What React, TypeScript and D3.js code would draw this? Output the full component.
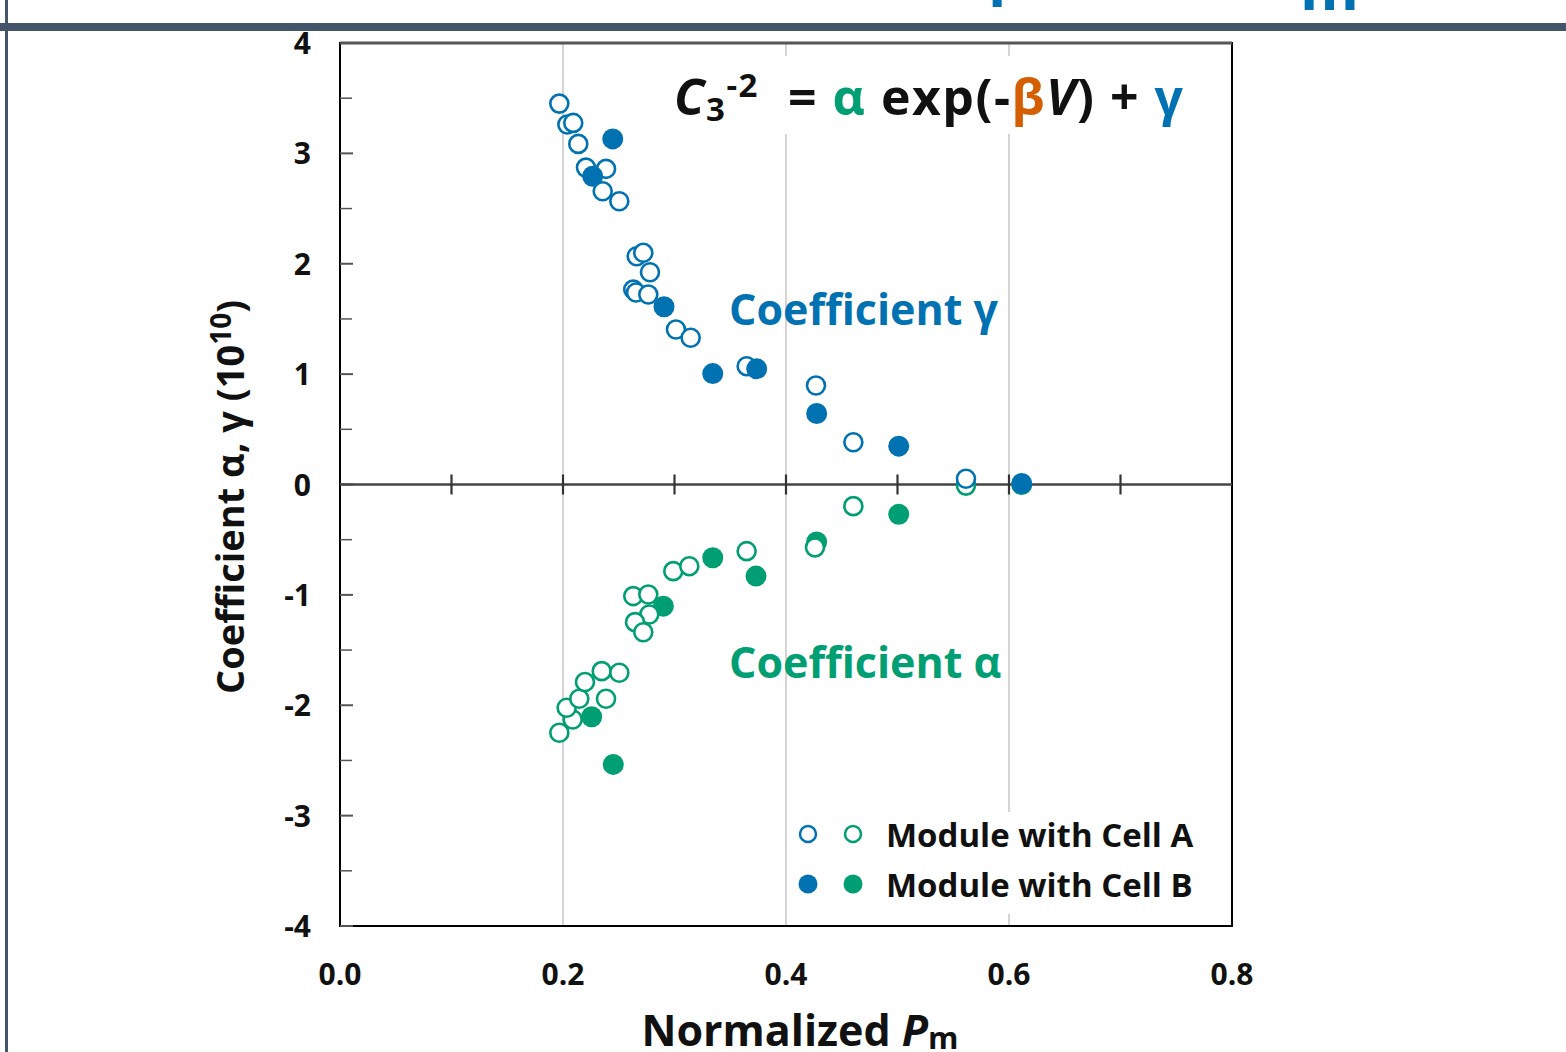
import React from "react";
import * as d3 from "d3";

// Cell A (open) – gamma (blue)
const gammaA_x = [0.1967, 0.2039, 0.2092, 0.2137, 0.2206, 0.2386, 0.2356, 0.2505, 0.2661, 0.2720, 0.2780, 0.2630, 0.2655, 0.2765, 0.3013, 0.3145, 0.3647, 0.4269, 0.4604, 0.5614];
const gammaA_y = [3.451, 3.261, 3.276, 3.086, 2.871, 2.860, 2.657, 2.566, 2.068, 2.099, 1.923, 1.766, 1.739, 1.721, 1.404, 1.329, 1.072, 0.897, 0.383, 0.052];
// Cell B (filled) – gamma (blue)
const gammaB_x = [0.2446, 0.2266, 0.2906, 0.3343, 0.3737, 0.4275, 0.5011, 0.6114];
const gammaB_y = [3.131, 2.793, 1.610, 1.005, 1.048, 0.643, 0.347, 0.009];
// Cell A (open) – alpha (green)
const alphaA_x = [0.1967, 0.2087, 0.2033, 0.2146, 0.2197, 0.2347, 0.2505, 0.2386, 0.2630, 0.2765, 0.2774, 0.2646, 0.2720, 0.2989, 0.3133, 0.3647, 0.4260, 0.4604, 0.5614];
const alphaA_y = [-2.249, -2.129, -2.023, -1.941, -1.790, -1.691, -1.706, -1.941, -1.011, -0.996, -1.178, -1.247, -1.338, -0.785, -0.740, -0.604, -0.570, -0.196, -0.010];
// Cell B (filled) – alpha (green)
const alphaB_x = [0.2257, 0.2451, 0.2900, 0.3343, 0.3731, 0.4275, 0.5011, 0.6114];
const alphaB_y = [-2.104, -2.536, -1.102, -0.664, -0.830, -0.520, -0.270, 0.0];

const xTicks = [0.0, 0.2, 0.4, 0.6, 0.8];
const xAxisMinorTicks = [0.1, 0.2, 0.3, 0.4, 0.5, 0.6, 0.7];
const yTicks = [-4, -3, -2, -1, 0, 1, 2, 3, 4];
const yMinorTicks = [-3.5, -2.5, -1.5, -0.5, 0.5, 1.5, 2.5, 3.5];
const gridX = [0.2, 0.4, 0.6];
const legendLabels = ["Module with Cell A", "Module with Cell B"];

const BLUE = "#0072B2";
const GREEN = "#009E73";
const ORANGE = "#D55E00";
const FRAME = "#44546A";
const FONT = "'Open Sans', Lato, sans-serif";

export default function App() {
  const x = d3.scaleLinear().domain([0, 0.8]).range([340, 1232]);
  const y = d3.scaleLinear().domain([-4, 4]).range([926, 43]);
  const [x0, x1] = x.range();
  const [yb, yt] = y.range();

  const zip = (xs: number[], ys: number[]) => xs.map((v, i) => [v, ys[i]] as [number, number]);
  const openPts = (pts: [number, number][], color: string, key: string) =>
    pts.map((p, i) => (
      <circle key={key + i} cx={x(p[0])} cy={y(p[1])} r={9} fill="#fff" stroke={color} strokeWidth={2.6} />
    ));
  const fillPts = (pts: [number, number][], color: string, key: string) =>
    pts.map((p, i) => <circle key={key + i} cx={x(p[0])} cy={y(p[1])} r={10.5} fill={color} />);

  return (
    <svg width={1566} height={1052} style={{ position: "absolute", left: 0, top: 0, background: "#fff" }}>
      {/* slide frame and cut-off title fragments */}
      <text x={988} y={-8} fontFamily={FONT} fontWeight={700} fontSize={60} fill={BLUE}>p</text>
      <text x={1300} y={10} fontFamily={FONT} fontWeight={700} fontSize={60} fill={BLUE}>m</text>
      <rect x={0} y={23} width={1566} height={8} fill={FRAME} />
      <rect x={5} y={0} width={3} height={1052} fill={FRAME} />

      {/* grid */}
      {gridX.map((g) => (
        <line key={"g" + g} x1={x(g)} x2={x(g)} y1={yt} y2={yb} stroke="#d4d4d4" strokeWidth={2} />
      ))}

      {/* white boxes behind equation and legend */}
      <rect x={660} y={56} width={545} height={78} fill="#fff" />
      <rect x={790} y={812} width={425} height={102} fill="#fff" />

      {/* frame */}
      <rect x={x0} y={yt} width={x1 - x0} height={yb - yt} fill="none" stroke="#000" strokeWidth={2} />
      <line x1={x0} x2={x1} y1={yt} y2={yt} stroke="#555" strokeWidth={3} />

      {/* y ticks (inward) */}
      {yTicks.map((t) => (
        <line key={"yt" + t} x1={x0} x2={x0 + 13} y1={y(t)} y2={y(t)} stroke="#555" strokeWidth={2} />
      ))}
      {yMinorTicks.map((t) => (
        <line key={"ym" + t} x1={x0} x2={x0 + 12} y1={y(t)} y2={y(t)} stroke="#555" strokeWidth={1.5} />
      ))}

      {/* zero axis */}
      <line x1={x0} x2={x1} y1={y(0)} y2={y(0)} stroke="#444" strokeWidth={2.5} />
      {xAxisMinorTicks.map((t) => (
        <line key={"xt" + t} x1={x(t)} x2={x(t)} y1={y(0) - 10} y2={y(0) + 10} stroke="#333" strokeWidth={2.2} />
      ))}

      {/* tick labels */}
      {yTicks.map((t) => (
        <text key={"yl" + t} x={311} y={y(t) + 11} textAnchor="end" fontFamily={FONT} fontWeight={700} fontSize={30} fill="#111">
          {String(t)}
        </text>
      ))}
      {xTicks.map((t) => (
        <text key={"xl" + t} x={x(t)} y={985} textAnchor="middle" fontFamily={FONT} fontWeight={700} fontSize={30} fill="#111">
          {d3.format(".1f")(t)}
        </text>
      ))}

      {/* axis titles */}
      <text x={800} y={1046} textAnchor="middle" fontFamily={FONT} fontWeight={700} fontSize={43} fill="#111">
        Normalized <tspan fontStyle="italic">P</tspan>
        <tspan fontSize={31} dy={3}>m</tspan>
      </text>
      <text
        transform="translate(244,497) rotate(-90)"
        textAnchor="middle"
        fontFamily={FONT}
        fontWeight={700}
        fontSize={38}
        fill="#111"
      >
        Coefficient α, γ (10<tspan fontSize={28} dy={-13}>10</tspan>
        <tspan dy={13}>)</tspan>
      </text>

      {/* data */}
      {fillPts(zip(alphaB_x, alphaB_y), GREEN, "ab")}
      {openPts(zip(alphaA_x, alphaA_y), GREEN, "aa")}
      {openPts(zip(gammaA_x, gammaA_y), BLUE, "ga")}
      {fillPts(zip(gammaB_x, gammaB_y), BLUE, "gb")}

      {/* equation */}
      <text x={674} y={115} fontFamily={FONT} fontWeight={700} fontSize={50} letterSpacing={1.5} fill="#111" style={{ whiteSpace: "pre" }}>
        <tspan fontStyle="italic">C</tspan>
        <tspan fontSize={33} dy={6}>3</tspan>
        <tspan fontSize={33} dy={-24}>-2</tspan>
        <tspan dy={18}>{"  = "}</tspan>
        <tspan fill={GREEN}>α</tspan>
        <tspan>{" exp(-"}</tspan>
        <tspan fill={ORANGE}>β</tspan>
        <tspan fontStyle="italic">V</tspan>
        <tspan>{") + "}</tspan>
        <tspan fill={BLUE}>γ</tspan>
      </text>

      {/* series labels */}
      <text x={729} y={325} fontFamily={FONT} fontWeight={700} fontSize={43} fill={BLUE}>Coefficient γ</text>
      <text x={729} y={678} fontFamily={FONT} fontWeight={700} fontSize={43} fill={GREEN}>Coefficient α</text>

      {/* legend */}
      <circle cx={808} cy={834} r={8} fill="#fff" stroke={BLUE} strokeWidth={2.5} />
      <circle cx={853} cy={834} r={8} fill="#fff" stroke={GREEN} strokeWidth={2.5} />
      <circle cx={808} cy={884} r={9.5} fill={BLUE} />
      <circle cx={853} cy={884} r={9.5} fill={GREEN} />
      <text x={886} y={847} fontFamily={FONT} fontWeight={700} fontSize={33} fill="#111">{legendLabels[0]}</text>
      <text x={886} y={897} fontFamily={FONT} fontWeight={700} fontSize={33} fill="#111">{legendLabels[1]}</text>
    </svg>
  );
}
